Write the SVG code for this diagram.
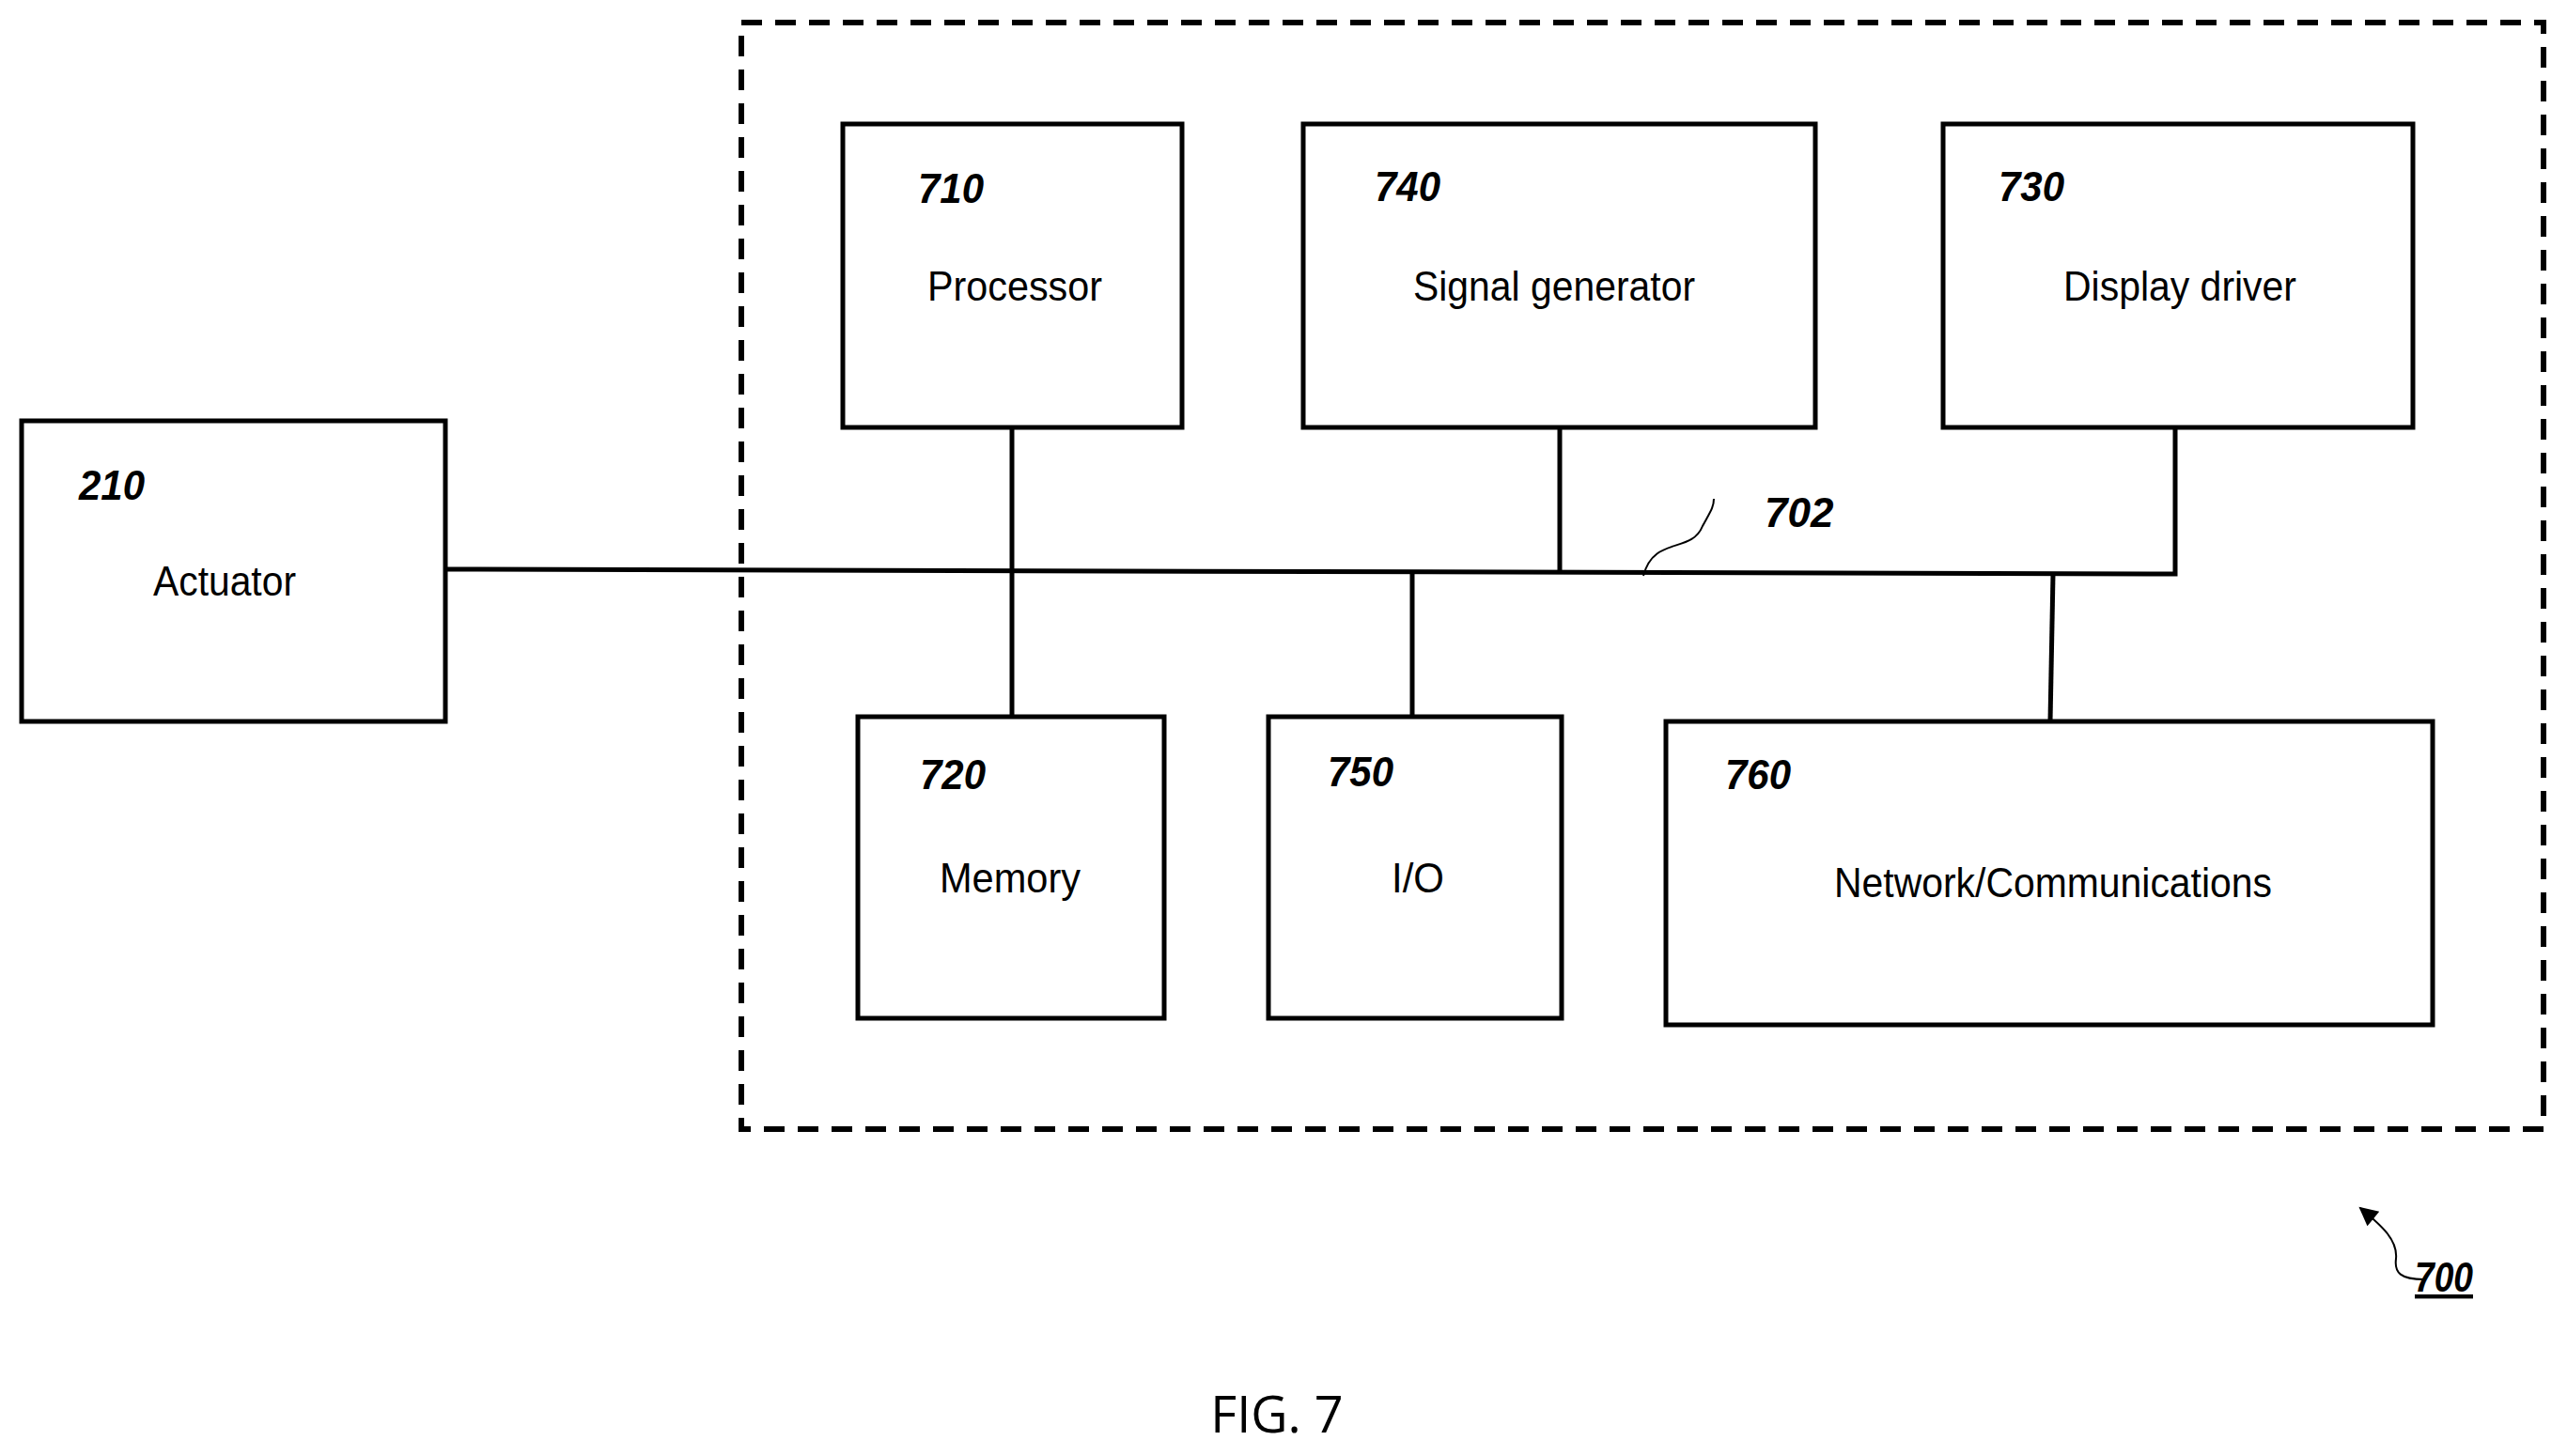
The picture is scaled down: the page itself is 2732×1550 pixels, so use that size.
<svg xmlns="http://www.w3.org/2000/svg" width="2732" height="1550" viewBox="0 0 2732 1550">
<defs>
<style>
.box{fill:#fff;stroke:#000;stroke-width:5}
.ln{fill:none;stroke:#000;stroke-width:5}
.num{font-family:"Liberation Sans",Arial,sans-serif;font-weight:bold;font-style:italic;font-size:44px}
.lbl{font-family:"Liberation Sans",Arial,sans-serif;font-size:44px;text-anchor:middle}
</style>
<marker id="ah" viewBox="0 0 10 10" refX="9" refY="5" markerWidth="22" markerHeight="20" orient="auto" markerUnits="userSpaceOnUse"><path d="M0,0 L10,5 L0,10 z"/></marker>
</defs>
<rect width="2732" height="1550" fill="#fff"/>
<rect x="789" y="24" width="1918" height="1178" fill="none" stroke="#000" stroke-width="6" stroke-dasharray="22,14"/>
<g id="connectors">
<polyline class="ln" points="474,606 2315,611 2315,455"/>
<line class="ln" x1="1077" y1="455" x2="1077" y2="763"/>
<line class="ln" x1="1660" y1="455" x2="1660" y2="610"/>
<line class="ln" x1="1503" y1="609" x2="1503" y2="763"/>
<line class="ln" x1="2185" y1="611" x2="2182" y2="768"/>
<path d="M1749,613 C1760,570 1800,590 1812,560 C1820,545 1824,540 1824,531" fill="none" stroke="#000" stroke-width="2"/>
<path d="M2580,1362 C2555,1362 2548,1355 2550,1340 C2552,1320 2535,1305 2512,1286" fill="none" stroke="#000" stroke-width="2" marker-end="url(#ah)"/>
</g>
<text class="num" x="1878" y="561">702</text>
<g id="n210"><rect class="box" x="23" y="448" width="451" height="320"/><text class="num" x="84" y="532" textLength="70" lengthAdjust="spacingAndGlyphs">210</text><text class="lbl" x="239" y="634" textLength="152" lengthAdjust="spacingAndGlyphs">Actuator</text></g>
<g id="n710"><rect class="box" x="897" y="132" width="361" height="323"/><text class="num" x="977" y="216" textLength="70" lengthAdjust="spacingAndGlyphs">710</text><text class="lbl" x="1080" y="320" textLength="186" lengthAdjust="spacingAndGlyphs">Processor</text></g>
<g id="n740"><rect class="box" x="1387" y="132" width="545" height="323"/><text class="num" x="1463" y="214" textLength="70" lengthAdjust="spacingAndGlyphs">740</text><text class="lbl" x="1654" y="320" textLength="300" lengthAdjust="spacingAndGlyphs">Signal generator</text></g>
<g id="n730"><rect class="box" x="2068" y="132" width="500" height="323"/><text class="num" x="2127" y="214" textLength="70" lengthAdjust="spacingAndGlyphs">730</text><text class="lbl" x="2320" y="320" textLength="248" lengthAdjust="spacingAndGlyphs">Display driver</text></g>
<g id="n720"><rect class="box" x="913" y="763" width="326" height="321"/><text class="num" x="979" y="840" textLength="70" lengthAdjust="spacingAndGlyphs">720</text><text class="lbl" x="1075" y="950" textLength="150" lengthAdjust="spacingAndGlyphs">Memory</text></g>
<g id="n750"><rect class="box" x="1350" y="763" width="312" height="321"/><text class="num" x="1413" y="837" textLength="70" lengthAdjust="spacingAndGlyphs">750</text><text class="lbl" x="1509" y="950" textLength="56" lengthAdjust="spacingAndGlyphs">I/O</text></g>
<g id="n760"><rect class="box" x="1773" y="768" width="816" height="323"/><text class="num" x="1836" y="840" textLength="70" lengthAdjust="spacingAndGlyphs">760</text><text class="lbl" x="2185" y="955" textLength="466" lengthAdjust="spacingAndGlyphs">Network/Communications</text></g>
<text class="num" x="2570" y="1375" font-size="36" text-decoration="underline" textLength="62" lengthAdjust="spacingAndGlyphs">700</text>
<text x="1359" y="1525" font-family="Open Sans,Liberation Sans,sans-serif" font-size="54" text-anchor="middle">FIG. 7</text>
</svg>
